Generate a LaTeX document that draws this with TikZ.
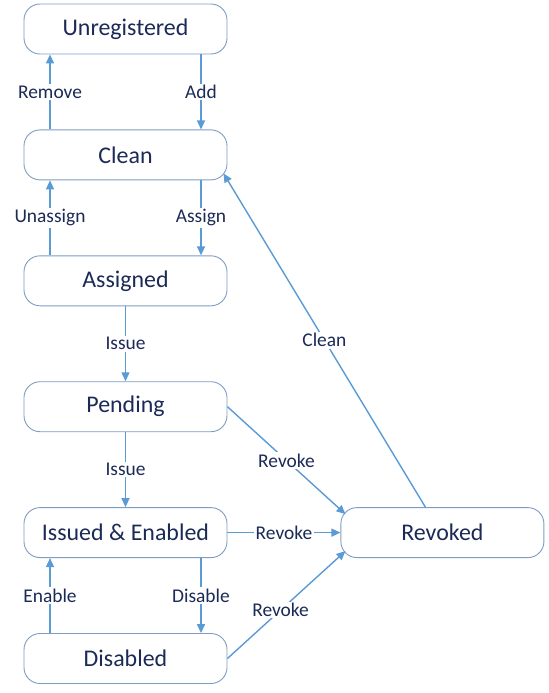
\documentclass[tikz,border=0pt]{standalone}
\usepackage{fontspec}
\setmainfont{Carlito}
\usepackage{xcolor}
\usetikzlibrary{positioning,arrows.meta}

\definecolor{textblue}{HTML}{1B2A56}
\definecolor{boxline}{HTML}{7F9DC4}
\definecolor{arrowblue}{HTML}{5B9BD5}

\begin{document}
\begin{tikzpicture}[x=1bp, y=1bp, node distance=75bp,
    state/.style={rectangle, rounded corners=16bp, draw=boxline, line width=0.9bp, fill=white,
                  minimum width=203bp, minimum height=50bp, text=textblue, font=\fontsize{24}{28}\selectfont},
    lbl/.style={fill=white, inner sep=1.5bp, text=textblue, font=\fontsize{19.5}{23}\selectfont},
    arrow/.style={-{Triangle[width=8bp,length=9bp]}, draw=arrowblue, fill=arrowblue, line width=1.4bp}]

    \useasboundingbox (0,0) rectangle (549,-693);

    \node [state] (unreg) at (125.5,-29) {Unregistered};
    \node [state, below=of unreg] (clean) {Clean};
    \node [state, below=of clean] (assigned) {Assigned};
    \node [state, below=of assigned] (pending) {Pending};
    \node [state, below=of pending] (issued) {Issued \& Enabled};
    \node [state, below=of issued] (disabled) {Disabled};
    \node [state, right=113bp of issued] (revoked) {Revoked};

    % left and right vertical pairs
    \draw [arrow] ([xshift=75.5bp]unreg.south) -- node[lbl] {Add} ([xshift=75.5bp]clean.north);
    \draw [arrow] ([xshift=-75.5bp]clean.north) -- node[lbl] {Remove} ([xshift=-75.5bp]unreg.south);
    \draw [arrow] ([xshift=75.5bp]clean.south) -- node[lbl] {Assign} ([xshift=75.5bp]assigned.north);
    \draw [arrow] ([xshift=-75.5bp]assigned.north) -- node[lbl] {Unassign} ([xshift=-75.5bp]clean.south);
    \draw [arrow] (assigned) -- node[lbl] {Issue} (pending);
    \draw [arrow] (pending) -- node[lbl] {Issue} (issued);
    \draw [arrow] ([xshift=75.5bp]issued.south) -- node[lbl] {Disable} ([xshift=75.5bp]disabled.north);
    \draw [arrow] ([xshift=-75.5bp]disabled.north) -- node[lbl] {Enable} ([xshift=-75.5bp]issued.south);

    % revoke
    \draw [arrow] (pending.east) -- node[lbl] {Revoke} ([shift={(5bp,-7bp)}]revoked.north west);
    \draw [arrow] (issued) -- node[lbl] {Revoke} (revoked);
    \draw [arrow] (disabled.east) -- node[lbl, pos=0.45] {Revoke} ([shift={(5bp,7bp)}]revoked.south west);
    \draw [arrow] ([xshift=-17bp]revoked.north) -- node[lbl] {Clean} ([shift={(-4bp,7bp)}]clean.south east);
\end{tikzpicture}
\end{document}
